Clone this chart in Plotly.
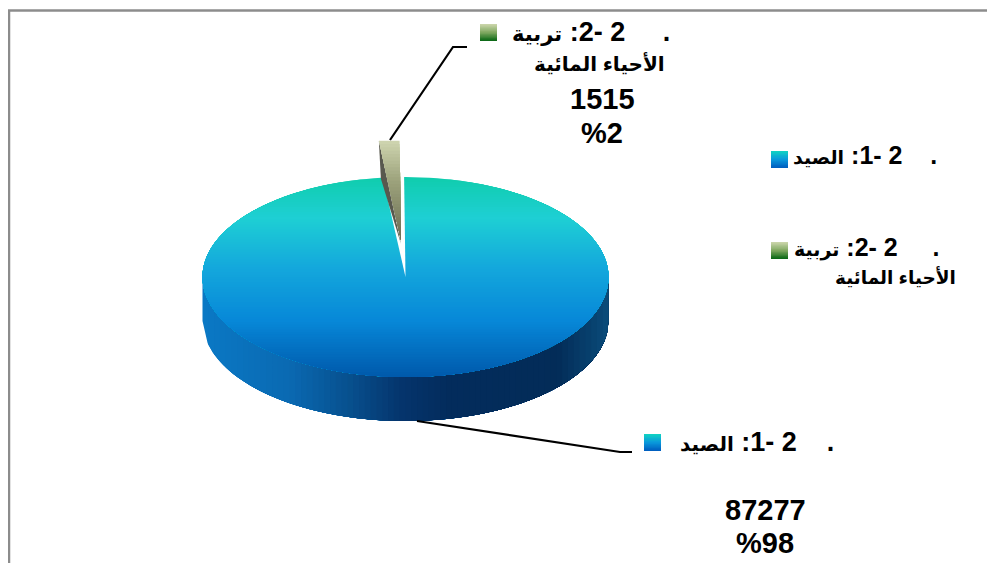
import numpy as np
import plotly.graph_objects as go

# --- data ---
categories = ["الصيد", "تربية الأحياء المائية"]
section_numbers = ["1", "2"]
values = [87277, 1515]
percent_labels = ["%98", "%2"]

# --- geometry / style ---
W, H = 995, 563
PAGE_MARGIN = 8  # the browser page keeps an 8px body margin
CX, CY, RX, RY, DEPTH = 405.5, 277, 203, 100, 44
FONT = "Liberation Sans, Arial, DejaVu Sans, sans-serif"
NB = "\u00a0"


def hex2rgb(h):
    return np.array([int(h[i:i + 2], 16) for i in (1, 3, 5)], dtype=float)


def ramp(stops, t):
    ps = [s[0] for s in stops]
    cs = np.array([hex2rgb(s[1]) for s in stops])
    c = [np.interp(t, ps, cs[:, k]) for k in range(3)]
    return "rgb(%d,%d,%d)" % tuple(int(round(v)) for v in c)


TOP_RAMP = [(0, "#10cdae"), (0.2, "#1ecfd4"), (0.45, "#14a8dc"), (0.72, "#0788d8"), (1, "#005aac")]
SIDE_RAMP = [(0, "#0a78c4"), (0.21, "#0a69b2"), (0.36, "#07508e"), (0.49, "#05346c"),
             (0.61, "#032c5c"), (0.88, "#032c58"), (1, "#0a4a78")]
BLUE_SW = [(0, "#10d0c4"), (0.5, "#0a98dc"), (1, "#0060c0")]
GREEN_SW = [(0, "#c8d4a8"), (0.5, "#7fa860"), (1, "#0e6a18")]
TAN_RAMP = [(0, "#cdd3ae"), (0.38, "#9da37c"), (1, "#6a6a52")]

fig = go.Figure()


def poly(x, y, color):
    fig.add_trace(go.Scatter(x=x, y=y, mode="lines", fill="toself", fillcolor=color,
                             line=dict(width=0), hoverinfo="skip", showlegend=False))


# side wall: vertical bands, painter's order
for i, x0 in enumerate(np.linspace(CX - RX, CX + RX, 70, endpoint=False)):
    xs = np.linspace(x0, CX + RX, 80)
    u = np.clip((xs - CX) / RX, -1, 1)
    up = CY + RY * np.sqrt(1 - u ** 2) - 2
    poly(np.r_[xs, xs[::-1]], np.r_[up, (up + 2 + DEPTH)[::-1]], ramp(SIDE_RAMP, i / 69))

# top face: horizontal bands, painter's order
for i, y0 in enumerate(np.linspace(CY - RY, CY + RY, 80, endpoint=False)):
    a0 = np.arccos(np.clip((y0 - CY) / RY, -1, 1))
    a = np.linspace(-a0, a0, 160)
    poly(CX + RX * np.sin(a), CY + RY * np.cos(a), ramp(TOP_RAMP, i / 79))

# slice geometry comes from the values
total = sum(values)
sweep = 2 * np.pi * values[1] / total
start = np.radians(0.4)
arc = np.linspace(start, start + sweep, 12)

# gap left in the main disc
poly(np.r_[CX, CX - RX * np.sin(arc), CX], np.r_[CY, CY - (RY + 2) * np.cos(arc), CY], "#ffffff")

# exploded slice
DX, DY = -4.5, -37
ax, ay = CX + DX, CY + DY
lx, ly = ax - RX * np.sin(arc[-1]), ay - RY * np.cos(arc[-1])
poly([lx + 1, lx + 3, ax], [ly, ly + 38, ay + 4], "#58584e")
for i, t in enumerate(np.linspace(0, 1, 30, endpoint=False)):
    yy = ly + t * RY
    xl = lx + 1 + (ax - lx - 1) * t
    rx_top = ax - RX * np.sin(arc[0])
    xr = rx_top + (ax - rx_top) * t
    poly([xl, xr, ax], [yy, yy, ay], ramp(TAN_RAMP, t))

# leader lines
for xs, ys in ([[417, 620, 632], [421, 452, 452]], [[390, 453, 467], [140, 47, 47]]):
    fig.add_trace(go.Scatter(x=xs, y=ys, mode="lines", line=dict(color="#000000", width=2.2),
                             hoverinfo="skip", showlegend=False))

shapes = [
    dict(type="line", x0=8, x1=995, y0=10.5, y1=10.5, line=dict(color="#8c8c8c", width=2.5)),
    dict(type="line", x0=9, x1=9, y0=10, y1=563, line=dict(color="#8c8c8c", width=2.5)),
]
for sx, sy, rmp in ((771, 151, BLUE_SW), (771, 242, GREEN_SW), (644, 434, BLUE_SW), (480, 24, GREEN_SW)):
    for k in range(12):
        shapes.append(dict(type="rect", x0=sx, x1=sx + 17, y0=sy + k * 17 / 12, y1=sy + 17,
                           fillcolor=ramp(rmp, k / 11), line=dict(width=0)))

first = categories[0]
sec_a, sec_b = categories[1].split(" ", 1)


def head(name, n, ar_size, pad):
    arabic = "<span style='font-size:%dpx'>\u2066" % ar_size + name + "\u2069</span>"
    return arabic + NB + ":" + n + "-" + NB + "2" + NB * pad + "."


def txt(x, y, s, size, anchor="center"):
    fig.add_annotation(x=x, y=y, text="<b>" + s + "</b>", showarrow=False, xanchor=anchor, yanchor="middle",
                       font=dict(family=FONT, size=size, color="#000000"), xref="x", yref="y")


txt(939, 155, head(first, section_numbers[0], 19, 4), 25, "right")
txt(941, 247, head(sec_a, section_numbers[1], 19, 5), 25, "right")
txt(958, 277, sec_b, 18.5, "right")
txt(836, 442, head(first, section_numbers[0], 20, 4), 27, "right")
txt(672, 32, head(sec_a, section_numbers[1], 21, 5), 27, "right")
txt(667, 63, sec_b, 20, "right")
txt(602, 99, str(values[1]), 29)
txt(602, 133, percent_labels[1], 29)
txt(765, 510, str(values[0]), 29)
txt(765, 543, percent_labels[0], 29)

fig.update_layout(
    width=W - PAGE_MARGIN, height=H - PAGE_MARGIN, margin=dict(l=0, r=0, t=0, b=0), autosize=False,
    paper_bgcolor="#ffffff", plot_bgcolor="#ffffff", showlegend=False, shapes=shapes,
    xaxis=dict(range=[PAGE_MARGIN, W], visible=False, fixedrange=True),
    yaxis=dict(range=[H, PAGE_MARGIN], visible=False, fixedrange=True),
)
fig.write_html("out.html")
